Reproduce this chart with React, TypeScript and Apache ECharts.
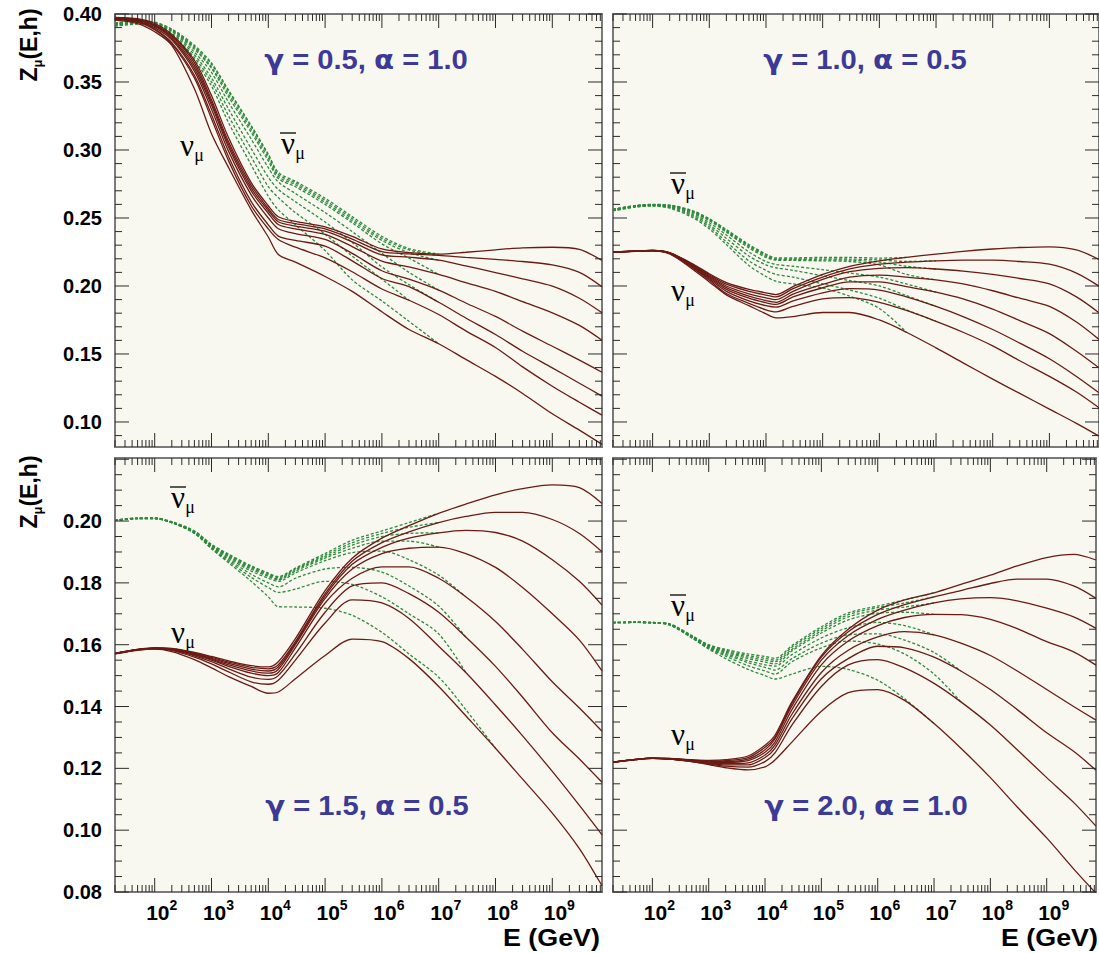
import React, { useEffect, useRef } from 'react';
import * as echarts from 'echarts';

// Energy sample points (GeV)
const E_GEV = [20, 50, 100, 200, 500, 1e3, 2e3, 5e3, 1e4, 1.5e4, 3e4, 1e5, 3e5, 1e6, 3e6, 1e7, 3e7, 1e8, 3e8, 1e9, 3e9, 7.5e9];
const X_DECADES = [2, 3, 4, 5, 6, 7, 8, 9];
const Y_LABELS_TOP = ['0.10', '0.15', '0.20', '0.25', '0.30', '0.35', '0.40'];
const Y_LABELS_BOTTOM = ['0.08', '0.10', '0.12', '0.14', '0.16', '0.18', '0.20'];
const PANEL_GAMMA = ['0.5', '1.0', '1.5', '2.0'];
const PANEL_ALPHA = ['1.0', '0.5', '0.5', '1.0'];

// ---- top-left: gamma 0.5, alpha 1.0
const TL_NU = [
  [0.3975, 0.3965, 0.393, 0.385, 0.366, 0.340, 0.309, 0.276, 0.259, 0.2509, 0.2475, 0.2435, 0.2365, 0.2272, 0.2245, 0.2235, 0.2248, 0.2266, 0.228, 0.2285, 0.227, 0.2187],
  [0.3972, 0.396, 0.392, 0.384, 0.364, 0.337, 0.306, 0.274, 0.257, 0.2489, 0.2458, 0.242, 0.2345, 0.2252, 0.2236, 0.2225, 0.221, 0.2195, 0.218, 0.2155, 0.210, 0.1994],
  [0.397, 0.3957, 0.3915, 0.383, 0.362, 0.335, 0.304, 0.272, 0.2555, 0.2472, 0.244, 0.2403, 0.2325, 0.2228, 0.2212, 0.219, 0.2148, 0.2099, 0.2052, 0.1999, 0.191, 0.1803],
  [0.3968, 0.3953, 0.391, 0.382, 0.360, 0.333, 0.302, 0.270, 0.2535, 0.2452, 0.242, 0.2379, 0.229, 0.2183, 0.214, 0.2085, 0.2025, 0.196, 0.1885, 0.1803, 0.171, 0.1601],
  [0.3965, 0.3948, 0.390, 0.381, 0.358, 0.330, 0.299, 0.267, 0.250, 0.2421, 0.2385, 0.2342, 0.224, 0.2112, 0.205, 0.197, 0.1875, 0.1776, 0.1668, 0.1557, 0.1455, 0.1366],
  [0.3962, 0.3943, 0.389, 0.379, 0.355, 0.326, 0.295, 0.262, 0.245, 0.2367, 0.2335, 0.2293, 0.2185, 0.2055, 0.1995, 0.188, 0.1765, 0.1643, 0.152, 0.1398, 0.1285, 0.119],
  [0.396, 0.394, 0.3885, 0.378, 0.353, 0.323, 0.292, 0.259, 0.242, 0.2342, 0.2285, 0.2207, 0.2105, 0.1978, 0.1895, 0.179, 0.167, 0.1548, 0.1405, 0.1263, 0.1145, 0.105],
  [0.3955, 0.393, 0.387, 0.377, 0.345, 0.312, 0.287, 0.256, 0.236, 0.2232, 0.2175, 0.207, 0.196, 0.181, 0.168, 0.1575, 0.146, 0.1335, 0.121, 0.106, 0.094, 0.0835],
];
const TL_NUBAR = [
  [0.3935, 0.3948, 0.394, 0.389, 0.377, 0.364, 0.344, 0.318, 0.297, 0.2835, 0.277, 0.2645, 0.251, 0.2365, 0.2275, 0.2235],
  [0.3933, 0.3945, 0.3937, 0.3885, 0.376, 0.363, 0.343, 0.317, 0.296, 0.282, 0.2758, 0.263, 0.2495, 0.235, 0.2265, 0.2225],
  [0.393, 0.3942, 0.3933, 0.388, 0.375, 0.361, 0.341, 0.315, 0.294, 0.2805, 0.2745, 0.2615, 0.248, 0.2335, 0.2245, 0.219],
  [0.3928, 0.394, 0.393, 0.3875, 0.374, 0.360, 0.339, 0.313, 0.292, 0.279, 0.273, 0.260, 0.2465, 0.231, 0.2205, 0.2085],
  [0.3925, 0.3937, 0.3925, 0.387, 0.372, 0.357, 0.335, 0.308, 0.287, 0.2765, 0.268, 0.254, 0.240, 0.224, 0.210, 0.197],
  [0.392, 0.3933, 0.392, 0.386, 0.370, 0.353, 0.330, 0.301, 0.280, 0.271, 0.262, 0.247, 0.232, 0.214, 0.201, 0.188],
  [0.3915, 0.393, 0.3915, 0.385, 0.368, 0.350, 0.325, 0.295, 0.273, 0.265, 0.254, 0.238, 0.222, 0.205, 0.1895],
  [0.391, 0.3925, 0.391, 0.384, 0.366, 0.347, 0.320, 0.289, 0.266, 0.256, 0.245, 0.226, 0.2045, 0.189, 0.174, 0.1575],
];

// ---- top-right: gamma 1.0, alpha 0.5
const TR_NU = [
  [0.2249, 0.2258, 0.2262, 0.2245, 0.2165, 0.209, 0.2025, 0.1975, 0.195, 0.1937, 0.1995, 0.2085, 0.2145, 0.2185, 0.221, 0.2235, 0.2255, 0.2272, 0.2283, 0.2288, 0.2265, 0.2195],
  [0.2249, 0.2258, 0.2262, 0.2244, 0.216, 0.2083, 0.2013, 0.196, 0.1933, 0.192, 0.198, 0.2065, 0.2125, 0.216, 0.2175, 0.2185, 0.219, 0.219, 0.218, 0.216, 0.2095, 0.1999],
  [0.2249, 0.2258, 0.2261, 0.2243, 0.2155, 0.2075, 0.200, 0.1942, 0.1913, 0.190, 0.196, 0.2048, 0.2105, 0.213, 0.2135, 0.2125, 0.211, 0.2085, 0.2055, 0.2015, 0.192, 0.1803],
  [0.2248, 0.2257, 0.2261, 0.2242, 0.215, 0.2068, 0.1988, 0.1925, 0.1893, 0.188, 0.194, 0.2011, 0.2065, 0.208, 0.2065, 0.2045, 0.2015, 0.1965, 0.191, 0.185, 0.1735, 0.1607],
  [0.2248, 0.2257, 0.226, 0.2241, 0.2145, 0.206, 0.1975, 0.191, 0.1877, 0.1865, 0.192, 0.1987, 0.203, 0.203, 0.1995, 0.1955, 0.1905, 0.183, 0.1745, 0.165, 0.152, 0.1398],
  [0.2248, 0.2256, 0.226, 0.224, 0.214, 0.2052, 0.196, 0.189, 0.1855, 0.1844, 0.189, 0.195, 0.198, 0.197, 0.192, 0.185, 0.1775, 0.168, 0.158, 0.1465, 0.1335, 0.1215],
  [0.2247, 0.2256, 0.2259, 0.2238, 0.2135, 0.2042, 0.1945, 0.1872, 0.1825, 0.181, 0.185, 0.1905, 0.1915, 0.188, 0.182, 0.174, 0.166, 0.156, 0.145, 0.1335, 0.122, 0.1104],
  [0.2247, 0.2255, 0.2258, 0.2235, 0.2125, 0.203, 0.1935, 0.1855, 0.1795, 0.1766, 0.1775, 0.1805, 0.1805, 0.175, 0.166, 0.1545, 0.1435, 0.1315, 0.121, 0.1095, 0.099, 0.0896],
];
const TR_NUBAR = [
  [0.2565, 0.2592, 0.260, 0.2595, 0.2555, 0.2495, 0.2415, 0.2305, 0.2235, 0.2207, 0.2207, 0.221, 0.221, 0.2205, 0.221],
  [0.2563, 0.259, 0.2598, 0.2593, 0.255, 0.249, 0.241, 0.2298, 0.2228, 0.220, 0.22, 0.22, 0.2198, 0.2192, 0.218, 0.2185],
  [0.2562, 0.259, 0.2597, 0.259, 0.2547, 0.2485, 0.2403, 0.229, 0.222, 0.2195, 0.2195, 0.2192, 0.219, 0.2175, 0.2145, 0.2125],
  [0.256, 0.2588, 0.2596, 0.2588, 0.2543, 0.248, 0.2395, 0.228, 0.221, 0.219, 0.2188, 0.2185, 0.218, 0.2155, 0.2085, 0.2045],
  [0.2558, 0.2587, 0.2595, 0.2585, 0.2535, 0.2465, 0.2375, 0.225, 0.218, 0.2158, 0.2145, 0.212, 0.2095, 0.2065, 0.2015, 0.1955],
  [0.2556, 0.2585, 0.2593, 0.258, 0.2525, 0.245, 0.235, 0.222, 0.2155, 0.2134, 0.2115, 0.2075, 0.204, 0.200, 0.193, 0.185],
  [0.2554, 0.2583, 0.259, 0.2577, 0.2515, 0.2435, 0.2325, 0.2185, 0.2115, 0.2085, 0.2065, 0.2015, 0.197, 0.191, 0.1825, 0.174],
  [0.2552, 0.258, 0.2588, 0.2572, 0.2505, 0.242, 0.2305, 0.215, 0.207, 0.2035, 0.2015, 0.1985, 0.1925, 0.1835, 0.166],
];

// ---- bottom-left: gamma 1.5, alpha 0.5
const BL_NU = [
  [0.1572, 0.1585, 0.159, 0.1588, 0.1575, 0.1562, 0.1548, 0.1532, 0.1528, 0.1545, 0.162, 0.1775, 0.188, 0.1945, 0.1985, 0.2025, 0.2055, 0.2085, 0.2105, 0.2117, 0.2108, 0.2057],
  [0.1572, 0.1585, 0.159, 0.1587, 0.1573, 0.1559, 0.1544, 0.1527, 0.1522, 0.1535, 0.161, 0.1765, 0.187, 0.193, 0.1965, 0.1995, 0.2015, 0.2028, 0.2028, 0.2005, 0.196, 0.1901],
  [0.1572, 0.1584, 0.1589, 0.1586, 0.1571, 0.1556, 0.154, 0.1521, 0.1515, 0.1528, 0.1605, 0.1758, 0.186, 0.1915, 0.1945, 0.1962, 0.197, 0.1963, 0.1935, 0.1875, 0.1805, 0.1728],
  [0.1571, 0.1584, 0.1589, 0.1585, 0.1569, 0.1553, 0.1535, 0.1515, 0.1508, 0.152, 0.160, 0.175, 0.1845, 0.1895, 0.1912, 0.1916, 0.1895, 0.185, 0.1785, 0.170, 0.1615, 0.1515],
  [0.1571, 0.1584, 0.1588, 0.1584, 0.1567, 0.155, 0.153, 0.1508, 0.150, 0.151, 0.159, 0.1735, 0.1815, 0.1852, 0.1852, 0.1815, 0.1755, 0.1675, 0.1585, 0.148, 0.1395, 0.132],
  [0.1571, 0.1583, 0.1588, 0.1583, 0.1564, 0.1545, 0.1522, 0.1495, 0.1488, 0.150, 0.157, 0.1705, 0.179, 0.180, 0.1765, 0.1705, 0.1625, 0.153, 0.143, 0.1315, 0.123, 0.1155],
  [0.157, 0.1583, 0.1587, 0.1582, 0.156, 0.1538, 0.1512, 0.148, 0.1472, 0.1485, 0.155, 0.167, 0.1745, 0.1735, 0.1685, 0.1595, 0.151, 0.1405, 0.1305, 0.119, 0.108, 0.0985],
  [0.157, 0.1582, 0.1586, 0.1578, 0.1552, 0.1525, 0.1497, 0.1465, 0.1443, 0.1447, 0.149, 0.1565, 0.1618, 0.161, 0.1555, 0.1465, 0.137, 0.1265, 0.1165, 0.1055, 0.094, 0.082],
];
const BL_NUBAR = [
  [0.2003, 0.201, 0.201, 0.1998, 0.1968, 0.1925, 0.1893, 0.1855, 0.1832, 0.182, 0.1848, 0.1895, 0.1938, 0.1968, 0.1995, 0.2025],
  [0.2003, 0.2009, 0.201, 0.1997, 0.1967, 0.1923, 0.189, 0.1852, 0.1829, 0.1817, 0.1845, 0.189, 0.193, 0.196, 0.198, 0.1995],
  [0.2003, 0.2009, 0.2009, 0.1996, 0.1966, 0.1921, 0.1887, 0.1848, 0.1825, 0.1813, 0.1842, 0.1885, 0.1922, 0.195, 0.196, 0.1962],
  [0.2003, 0.2009, 0.2009, 0.1996, 0.1965, 0.1919, 0.1884, 0.1844, 0.1821, 0.181, 0.1838, 0.188, 0.1912, 0.1935, 0.1935, 0.1916],
  [0.2002, 0.2008, 0.2009, 0.1995, 0.1963, 0.1917, 0.188, 0.1838, 0.1815, 0.1805, 0.1832, 0.1872, 0.1898, 0.1903, 0.1875, 0.1825, 0.1755],
  [0.2002, 0.2008, 0.2008, 0.1995, 0.1962, 0.1914, 0.1875, 0.1828, 0.18, 0.1787, 0.1815, 0.1845, 0.185, 0.1835, 0.179, 0.1725, 0.1625],
  [0.2002, 0.2008, 0.2008, 0.1995, 0.1961, 0.1912, 0.187, 0.1818, 0.1785, 0.1769, 0.178, 0.1805, 0.1795, 0.1755, 0.170, 0.1635, 0.151],
  [0.2002, 0.2008, 0.2008, 0.1995, 0.196, 0.191, 0.1865, 0.1805, 0.1755, 0.1723, 0.1722, 0.1718, 0.1695, 0.164, 0.157, 0.1495, 0.139, 0.1265],
];

// ---- bottom-right: gamma 2.0, alpha 1.0
const BR_NU = [
  [0.122, 0.1229, 0.1233, 0.1232, 0.1228, 0.1226, 0.1228, 0.124, 0.1275, 0.1307, 0.1415, 0.1565, 0.165, 0.1712, 0.1745, 0.1768, 0.1795, 0.1825, 0.1855, 0.1882, 0.1892, 0.1874],
  [0.122, 0.1229, 0.1233, 0.1232, 0.1227, 0.1224, 0.1225, 0.1235, 0.1268, 0.130, 0.141, 0.156, 0.1642, 0.1698, 0.173, 0.1755, 0.1775, 0.1798, 0.1812, 0.1812, 0.179, 0.175],
  [0.122, 0.1229, 0.1233, 0.1231, 0.1226, 0.1222, 0.1222, 0.123, 0.126, 0.1295, 0.1402, 0.155, 0.163, 0.1682, 0.1712, 0.1735, 0.1748, 0.1752, 0.1742, 0.1718, 0.169, 0.1653],
  [0.122, 0.1229, 0.1233, 0.1231, 0.1225, 0.122, 0.1219, 0.1225, 0.1252, 0.1285, 0.139, 0.1535, 0.1612, 0.1662, 0.1688, 0.1698, 0.1697, 0.1682, 0.1652, 0.161, 0.1577, 0.1534],
  [0.1219, 0.1228, 0.1232, 0.123, 0.1224, 0.1218, 0.1215, 0.1218, 0.1243, 0.1275, 0.1375, 0.151, 0.1582, 0.1625, 0.1642, 0.1632, 0.1605, 0.1565, 0.1515, 0.1455, 0.140, 0.1356],
  [0.1219, 0.1228, 0.1232, 0.123, 0.1223, 0.1216, 0.1211, 0.1211, 0.1235, 0.1265, 0.136, 0.149, 0.1555, 0.1595, 0.159, 0.156, 0.1515, 0.1455, 0.139, 0.1315, 0.1255, 0.1194],
  [0.1219, 0.1228, 0.1232, 0.123, 0.1222, 0.1214, 0.1207, 0.1204, 0.1222, 0.125, 0.134, 0.1465, 0.1535, 0.1552, 0.1525, 0.1475, 0.1415, 0.134, 0.126, 0.117, 0.109, 0.1013],
  [0.1219, 0.1228, 0.1232, 0.123, 0.1222, 0.1212, 0.1202, 0.1195, 0.1205, 0.1227, 0.1285, 0.1385, 0.1445, 0.1455, 0.142, 0.1345, 0.1265, 0.117, 0.1075, 0.0975, 0.0875, 0.0796],
];
const BR_NUBAR = [
  [0.1672, 0.1673, 0.1672, 0.1668, 0.163, 0.160, 0.1585, 0.157, 0.1562, 0.1556, 0.1597, 0.1658, 0.1703, 0.1725, 0.1745, 0.1768],
  [0.1672, 0.1673, 0.1672, 0.1667, 0.1628, 0.1598, 0.1582, 0.1565, 0.1556, 0.155, 0.1592, 0.1652, 0.1697, 0.172, 0.1735, 0.1755],
  [0.1672, 0.1673, 0.1672, 0.1667, 0.1627, 0.1596, 0.1579, 0.156, 0.155, 0.1545, 0.1585, 0.1645, 0.169, 0.1712, 0.1722, 0.1735],
  [0.1672, 0.1672, 0.1671, 0.1666, 0.1626, 0.1594, 0.1576, 0.1555, 0.1544, 0.1538, 0.158, 0.1638, 0.168, 0.1702, 0.1705, 0.1698],
  [0.1671, 0.1672, 0.1671, 0.1666, 0.1625, 0.1592, 0.1572, 0.1548, 0.1535, 0.1531, 0.1568, 0.1622, 0.1655, 0.1672, 0.1662, 0.1632],
  [0.1671, 0.1672, 0.1671, 0.1665, 0.1624, 0.159, 0.1568, 0.1542, 0.1527, 0.1518, 0.1555, 0.1605, 0.1632, 0.1635, 0.1615, 0.1575, 0.1515],
  [0.1671, 0.1672, 0.1671, 0.1665, 0.1623, 0.1588, 0.1563, 0.1532, 0.1515, 0.1505, 0.1545, 0.159, 0.1612, 0.1602, 0.157, 0.1505, 0.1415],
  [0.1671, 0.1672, 0.167, 0.1664, 0.1622, 0.1586, 0.1555, 0.152, 0.150, 0.1489, 0.1505, 0.153, 0.152, 0.1485, 0.1425, 0.1345],
];

// ---- layout / style
const X_MIN = 20;
const X_MAX = 7.5e9;
const GRIDS = [
  { left: 115, top: 14, width: 487, height: 433 },
  { left: 613, top: 14, width: 486, height: 433 },
  { left: 115, top: 458, width: 487, height: 434 },
  { left: 613, top: 458, width: 486, height: 434 },
];
const Y_RANGES = [[0.0816, 0.40], [0.0816, 0.40], [0.08, 0.2204], [0.08, 0.2204]];
const PANELS = [
  { nu: TL_NU, nubar: TL_NUBAR },
  { nu: TR_NU, nubar: TR_NUBAR },
  { nu: BL_NU, nubar: BL_NUBAR },
  { nu: BR_NU, nubar: BR_NUBAR },
];
const TITLE_POS = [[366, 60], [865, 60], [367, 806], [866, 806]];
// [nu label center], [nubar label center]
const NU_LABEL_POS = [
  [[187, 148], [288, 146]],
  [[678, 293], [678, 186]],
  [[178, 635], [178, 500]],
  [[678, 737], [678, 608]],
];

const SANS = '"Liberation Sans", Arial, Helvetica, sans-serif';
const GREEK = '"DejaVu Sans", "Noto Sans", sans-serif';
const SERIF = '"Liberation Serif", "Times New Roman", serif';
const NU_COLOR = '#6a1b14';
const NUBAR_COLOR = '#2e8a3c';
const TITLE_COLOR = '#3d3a97';
const BG = '#f9f8f0';

function tickData(row: number) {
  const out: number[][] = [];
  const yMin = Y_RANGES[row * 2][0];
  for (let n = 1; n <= 9; n++) {
    for (let k = 1; k <= 9; k++) {
      const e = k * Math.pow(10, n);
      if (e >= X_MIN && e <= X_MAX) out.push([e, yMin, 0, k === 1 ? 1 : 0]);
    }
  }
  if (row === 0) {
    for (let i = 9; i <= 40; i++) out.push([X_MIN, i / 100, 1, i % 5 === 0 ? 1 : 0]);
  } else {
    for (let i = 16; i <= 44; i++) out.push([X_MIN, i / 200, 1, i % 4 === 0 ? 1 : 0]);
  }
  return out;
}

function renderTick(params: any, api: any) {
  const cs = params.coordSys;
  const kind = api.value(2);
  const major = api.value(3);
  const len = major ? 14 : 7;
  const style = { stroke: '#2a2a2a', lineWidth: 1 };
  const p = api.coord([api.value(0), api.value(1)]);
  if (kind === 0) {
    const px = p[0];
    const yb = cs.y + cs.height;
    const yt = cs.y;
    return {
      type: 'group',
      children: [
        { type: 'line', shape: { x1: px, y1: yb, x2: px, y2: yb - len }, style },
        { type: 'line', shape: { x1: px, y1: yt, x2: px, y2: yt + len }, style },
      ],
    };
  }
  const py = p[1];
  const xl = cs.x;
  const xr = cs.x + cs.width;
  return {
    type: 'group',
    children: [
      { type: 'line', shape: { x1: xl, y1: py, x2: xl + len, y2: py }, style },
      { type: 'line', shape: { x1: xr, y1: py, x2: xr - len, y2: py }, style },
    ],
  };
}

function nuLabel(cx: number, cy: number, bar: boolean) {
  const els: any[] = [
    { type: 'text', x: cx, y: cy - 3, style: { text: 'ν', fontSize: 31, fontFamily: SERIF, fill: '#000', align: 'center', verticalAlign: 'middle' } },
    { type: 'text', x: cx + 12, y: cy + 7, style: { text: 'μ', fontSize: 18, fontFamily: SERIF, fill: '#000', align: 'center', verticalAlign: 'middle' } },
  ];
  if (bar) {
    els.push({ type: 'line', shape: { x1: cx - 8, y1: cy - 13, x2: cx + 8, y2: cy - 13 }, style: { stroke: '#000', lineWidth: 1.3 } });
  }
  return els;
}

function buildOption() {
  const grid = GRIDS.map((g) => ({ ...g, show: true, backgroundColor: BG, borderColor: '#7a7a7a', borderWidth: 2, containLabel: false }));
  const xAxis = GRIDS.map((_, i) => ({
    type: 'log',
    logBase: 10,
    gridIndex: i,
    min: X_MIN,
    max: X_MAX,
    position: 'bottom',
    axisLine: { show: false },
    axisTick: { show: false },
    splitLine: { show: false },
    minorTick: { show: false },
    axisLabel: {
      show: i >= 2,
      interval: 0,
      margin: 6,
      padding: [0, 0, 0, 14],
      formatter: (v: number) => {
        const l = Math.log10(v);
        const n = Math.round(l);
        if (Math.abs(l - n) > 1e-6 || X_DECADES.indexOf(n) < 0) return '';
        return `{b|10}{s|${n}}`;
      },
      rich: {
        b: { fontSize: 21, fontWeight: 'bold', fontFamily: SANS, color: '#000', lineHeight: 28 },
        s: { fontSize: 14, fontWeight: 'bold', fontFamily: SANS, color: '#000', verticalAlign: 'top' },
      },
    },
  }));
  const yAxis = GRIDS.map((_, i) => {
    const labels = i < 2 ? Y_LABELS_TOP : Y_LABELS_BOTTOM;
    const ax: any = {
      type: 'value',
      gridIndex: i,
      min: Y_RANGES[i][0],
      max: Y_RANGES[i][1],
      axisLine: { show: false },
      axisTick: { show: false },
      splitLine: { show: false },
      axisLabel: {
        show: i % 2 === 0,
        margin: 13,
        fontSize: 20,
        fontWeight: 'bold',
        fontFamily: SANS,
        color: '#000',
        formatter: (v: number) => {
          const s = v.toFixed(2);
          return labels.indexOf(s) >= 0 && Math.abs(v - parseFloat(s)) < 1e-9 ? s : '';
        },
      },
    };
    if (i >= 2) ax.interval = 0.02;
    return ax;
  });

  const series: any[] = [];
  PANELS.forEach((p, i) => {
    p.nubar.forEach((vals) => {
      series.push({
        type: 'line', xAxisIndex: i, yAxisIndex: i, silent: true, symbol: 'none', smooth: 0.3, z: 2,
        data: vals.map((v, j) => [E_GEV[j], v]),
        lineStyle: { color: NUBAR_COLOR, width: 1.3, type: [3, 2] },
      });
    });
    p.nu.forEach((vals) => {
      series.push({
        type: 'line', xAxisIndex: i, yAxisIndex: i, silent: true, symbol: 'none', smooth: 0.3, z: 3,
        data: vals.map((v, j) => [E_GEV[j], v]),
        lineStyle: { color: NU_COLOR, width: 1.3 },
      });
    });
    series.push({
      type: 'custom', coordinateSystem: 'cartesian2d', xAxisIndex: i, yAxisIndex: i, silent: true, z: 5,
      clip: false,
      data: tickData(i < 2 ? 0 : 1),
      renderItem: renderTick,
    });
  });

  const graphic: any[] = [];
  PANEL_GAMMA.forEach((g, i) => {
    graphic.push({
      type: 'text', x: TITLE_POS[i][0], y: TITLE_POS[i][1], scaleX: 1.08, z: 20,
      style: {
        text: `{g|γ}{t| = ${g}, }{g|α}{t| = ${PANEL_ALPHA[i]}}`,
        align: 'center', verticalAlign: 'middle',
        rich: {
          g: { fontSize: 27, fontWeight: 'bold', fontFamily: GREEK, fill: TITLE_COLOR, lineHeight: 34 },
          t: { fontSize: 27, fontWeight: 'bold', fontFamily: SANS, fill: TITLE_COLOR, lineHeight: 34 },
        },
      },
    });
  });
  NU_LABEL_POS.forEach((pp) => {
    graphic.push(...nuLabel(pp[0][0], pp[0][1], false));
    graphic.push(...nuLabel(pp[1][0], pp[1][1], true));
  });
  [45, 492].forEach((cy) => {
    graphic.push({
      type: 'text', x: 29, y: cy, rotation: Math.PI / 2,
      style: {
        text: '{a|Z}{b|μ}{a|(E,h)}', align: 'center', verticalAlign: 'middle',
        rich: {
          a: { fontSize: 23, fontWeight: 'bold', fontFamily: SANS, fill: '#000', lineHeight: 30 },
          b: { fontSize: 13, fontWeight: 'bold', fontFamily: SANS, fill: '#000', verticalAlign: 'bottom' },
        },
      },
    });
  });
  [600, 1098].forEach((rx) => {
    graphic.push({
      type: 'text', x: rx, y: 938, scaleX: 1.12,
      style: { text: 'E (GeV)', fontSize: 24, fontWeight: 'bold', fontFamily: SANS, fill: '#000', align: 'right', verticalAlign: 'middle' },
    });
  });

  return { animation: false, backgroundColor: '#ffffff', grid, xAxis, yAxis, series, graphic };
}

export default function App() {
  const ref = useRef<HTMLDivElement>(null);
  useEffect(() => {
    if (!ref.current) return;
    const chart = echarts.init(ref.current, null, { renderer: 'svg' });
    chart.setOption(buildOption() as any);
    return () => chart.dispose();
  }, []);
  return <div ref={ref} style={{ position: 'absolute', left: 0, top: 0, width: 1099, height: 953, background: '#fff' }} />;
}
